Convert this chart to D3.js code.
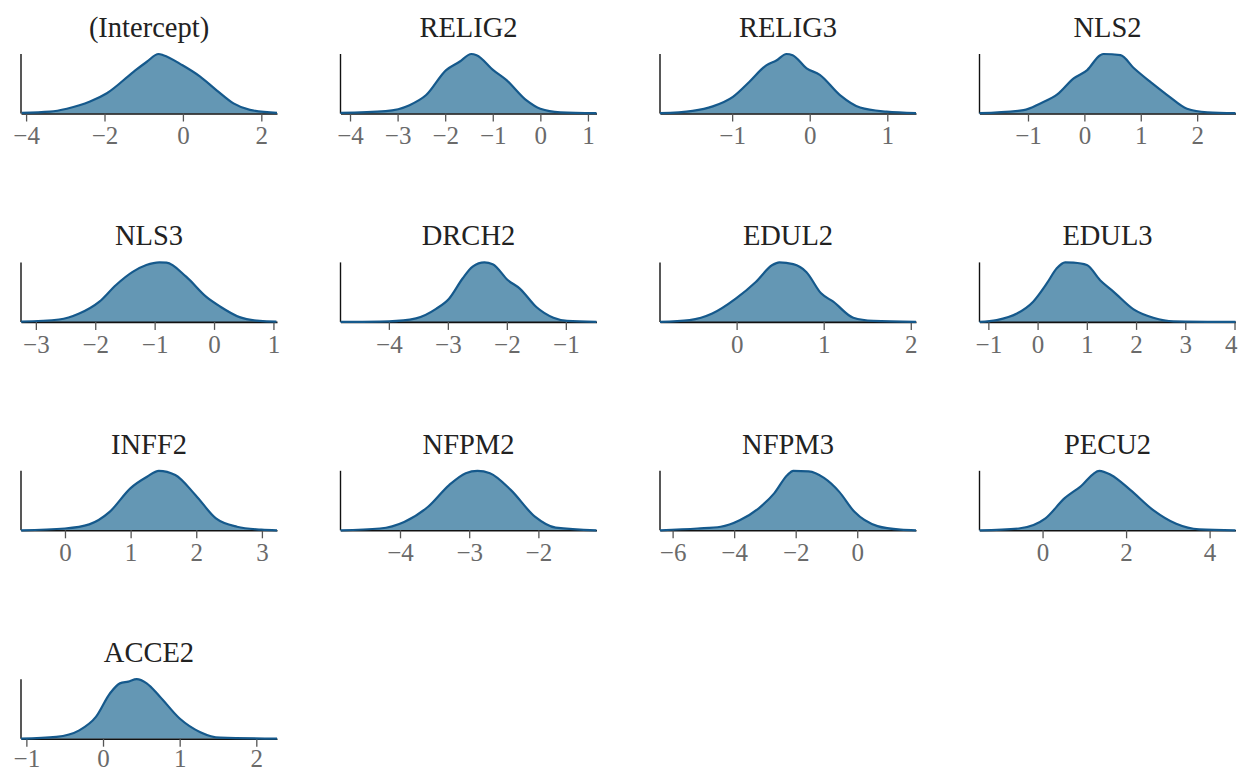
<!DOCTYPE html>
<html>
<head>
<meta charset="utf-8">
<script src="https://cdn.jsdelivr.net/npm/d3@7"></script>
<style>
  body { margin: 0; background: #fff; }
  svg { display: block; }
</style>
</head>
<body>
<svg id="chart"></svg>
<script>
// parameter names, in plotting order
const names = ["(Intercept)", "RELIG2", "RELIG3", "NLS2", "NLS3", "DRCH2", "EDUL2",
               "EDUL3", "INFF2", "NFPM2", "NFPM3", "PECU2", "ACCE2"];

// x-range shown by each panel
const domains = [
  [-4.13, 2.40], [-4.20, 1.18], [-1.93, 1.37], [-1.86, 2.68],
  [-3.25, 1.06], [-4.82, -0.48], [-0.88, 2.06], [-1.18, 4.02],
  [-0.67, 3.23], [-4.86, -1.16], [-6.41, 1.91], [-1.51, 4.62],
  [-1.07, 2.27]
];

// tick labels per panel
const ticks = [
  [-4, -2, 0, 2], [-4, -3, -2, -1, 0, 1], [-1, 0, 1], [-1, 0, 1, 2],
  [-3, -2, -1, 0, 1], [-4, -3, -2, -1], [0, 1, 2], [-1, 0, 1, 2, 3, 4],
  [0, 1, 2, 3], [-4, -3, -2], [-6, -4, -2, 0], [0, 2, 4],
  [-1, 0, 1, 2]
];

// posterior density curves, [value, relative density]
const intercept = [[-4.11,0.01],[-3.39,0.03],[-2.96,0.08],[-2.37,0.2],[-1.94,0.34],[-1.26,0.7],[-0.92,0.87],[-0.62,1.0],[-0.50,0.98],[-0.01,0.81],[0.44,0.62],[0.86,0.39],[1.29,0.17],[1.71,0.06],[2.40,0.01]];
const relig2 = [[-4.20,0.01],[-3.25,0.04],[-2.75,0.14],[-2.40,0.31],[-1.98,0.73],[-1.70,0.87],[-1.45,1.0],[-1.34,0.98],[-0.99,0.73],[-0.71,0.56],[-0.29,0.22],[0.0,0.08],[0.42,0.02],[1.18,0.005]];
const relig3 = [[-1.93,0.005],[-1.51,0.045],[-1.25,0.12],[-0.99,0.28],[-0.78,0.53],[-0.56,0.81],[-0.43,0.89],[-0.30,1.0],[-0.22,0.98],[-0.04,0.76],[0.13,0.65],[0.39,0.31],[0.65,0.10],[0.99,0.03],[1.37,0.005]];
const nls2 = [[-1.86,0.005],[-1.08,0.056],[-0.78,0.17],[-0.48,0.32],[-0.19,0.59],[0.05,0.73],[0.28,0.98],[0.34,1.0],[0.64,0.98],[0.88,0.76],[1.17,0.53],[1.47,0.31],[1.82,0.08],[2.18,0.02],[2.68,0.005]];
const nls3 = [[-3.25,0.005],[-2.61,0.04],[-2.27,0.14],[-1.93,0.34],[-1.65,0.62],[-1.37,0.84],[-1.14,0.955],[-0.92,1.0],[-0.80,0.995],[-0.47,0.76],[-0.13,0.42],[0.10,0.26],[0.43,0.08],[0.77,0.017],[1.05,0.005]];
const drch2 = [[-4.82,0],[-4.0,0.01],[-3.54,0.06],[-3.20,0.22],[-2.98,0.39],[-2.75,0.73],[-2.58,0.93],[-2.38,1.0],[-2.24,0.97],[-1.98,0.70],[-1.78,0.56],[-1.50,0.25],[-1.21,0.07],[-0.98,0.017],[-0.48,0]];
const edul2 = [[-0.88,0],[-0.54,0.03],[-0.28,0.14],[-0.01,0.39],[0.22,0.67],[0.41,0.955],[0.49,1.0],[0.65,0.97],[0.80,0.84],[0.97,0.48],[1.11,0.34],[1.34,0.07],[1.57,0.017],[2.06,0]];
const edul3 = [[-1.18,0],[-0.83,0.03],[-0.42,0.14],[-0.09,0.34],[0.19,0.65],[0.39,0.90],[0.56,1.0],[0.73,0.995],[1.0,0.955],[1.27,0.70],[1.54,0.51],[1.95,0.21],[2.35,0.07],[2.76,0.01],[4.02,0]];
const inff2 = [[-0.67,0],[0,0.03],[0.37,0.10],[0.68,0.31],[1.0,0.71],[1.25,0.90],[1.43,1.0],[1.68,0.93],[1.99,0.59],[2.30,0.20],[2.62,0.06],[2.99,0.01],[3.23,0]];
const nfpm2 = [[-4.86,0],[-4.29,0.03],[-3.94,0.14],[-3.59,0.40],[-3.29,0.76],[-3.05,0.96],[-2.88,1.0],[-2.70,0.96],[-2.40,0.68],[-2.05,0.23],[-1.75,0.045],[-1.16,0]];
const nfpm3 = [[-6.41,0],[-5.19,0.03],[-4.44,0.06],[-3.82,0.17],[-3.20,0.37],[-2.70,0.62],[-2.27,0.93],[-2.08,1.0],[-1.58,0.99],[-1.08,0.88],[-0.59,0.65],[-0.09,0.31],[0.66,0.07],[1.41,0.01],[1.91,0]];
const pecu2 = [[-1.51,0],[-0.57,0.03],[0.07,0.20],[0.53,0.54],[0.90,0.73],[1.36,1.0],[1.64,0.93],[2.10,0.68],[2.65,0.34],[3.20,0.11],[3.75,0.017],[4.62,0]];
const acce2 = [[-1.07,0],[-0.61,0.03],[-0.31,0.14],[-0.09,0.37],[0.09,0.76],[0.22,0.93],[0.33,0.96],[0.44,1.0],[0.57,0.93],[0.74,0.71],[1.0,0.34],[1.27,0.11],[1.53,0.017],[2.27,0]];

const curves = [intercept, relig2, relig3, nls2, nls3, drch2, edul2, edul3, inff2, nfpm2, nfpm3, pecu2, acce2];

const svgWidth = 1239, svgHeight = 772;
const colX = [21, 340.5, 660, 979.5],
    rowTop = [54, 262.4, 470.8, 679.2],
    width = 256,
    height = 59.5;

const serif = "'Liberation Serif', 'Times New Roman', serif";

const svg = d3.select("#chart")
    .attr("width", svgWidth)
    .attr("height", svgHeight)
    .style("font-family", serif);

names.forEach(function(name, i) {
  const left = colX[i % 4];
  const g = svg.append("g")
      .attr("transform", "translate(" + left + "," + rowTop[Math.floor(i / 4)] + ")");

  const x = d3.scaleLinear().domain(domains[i]).range([0, width]);
  const y = d3.scaleLinear().domain([0, 1]).range([height, 0]);

  const pts = curves[i];

  g.append("path")
      .datum(pts)
      .attr("fill", "#6497b4")
      .attr("d", d3.area()
          .curve(d3.curveMonotoneX)
          .x(function(d) { return x(d[0]); })
          .y0(height)
          .y1(function(d) { return y(d[1]); }));

  // bottom axis
  const ax = g.append("g")
      .attr("transform", "translate(0," + height + ")")
      .call(d3.axisBottom(x)
          .tickValues(ticks[i])
          .tickFormat(d3.format("d"))
          .tickSize(8).tickPadding(5).tickSizeOuter(0));
  ax.select(".domain").attr("stroke", "#111").attr("stroke-width", 1.6);
  ax.selectAll(".tick line").attr("stroke", "#555").attr("stroke-width", 1.3);
  ax.selectAll(".tick text")
      .attr("fill", "#6a6a6a")
      .style("font-family", serif)
      .style("font-size", "25px");

  // keep labels inside the page
  ax.selectAll(".tick text").each(function() {
    const b = this.getBBox();
    const gx = this.parentNode.transform.baseVal.consolidate().matrix.e;
    const over = left + gx + b.x + b.width - (svgWidth - 1);
    if (over > 0) d3.select(this).attr("dx", -over);
    const below = rowTop[Math.floor(i / 4)] + height + b.y + b.height - svgHeight;
    if (below > 0) d3.select(this).attr("y", +d3.select(this).attr("y") - below);
  });

  // left axis line only
  g.append("line")
      .attr("x1", 0).attr("x2", 0)
      .attr("y1", 0).attr("y2", height)
      .attr("stroke", "#111")
      .attr("stroke-width", 1.4);

  g.append("path")
      .datum(pts)
      .attr("fill", "none")
      .attr("stroke", "#15598c")
      .attr("stroke-width", 2.2)
      .attr("d", d3.line()
          .curve(d3.curveMonotoneX)
          .x(function(d) { return x(d[0]); })
          .y(function(d) { return y(d[1]); }));

  g.append("text")
      .attr("x", width / 2)
      .attr("y", -17)
      .attr("text-anchor", "middle")
      .attr("fill", "#222")
      .style("font-size", "28.5px")
      .text(name);
});
</script>
</body>
</html>
